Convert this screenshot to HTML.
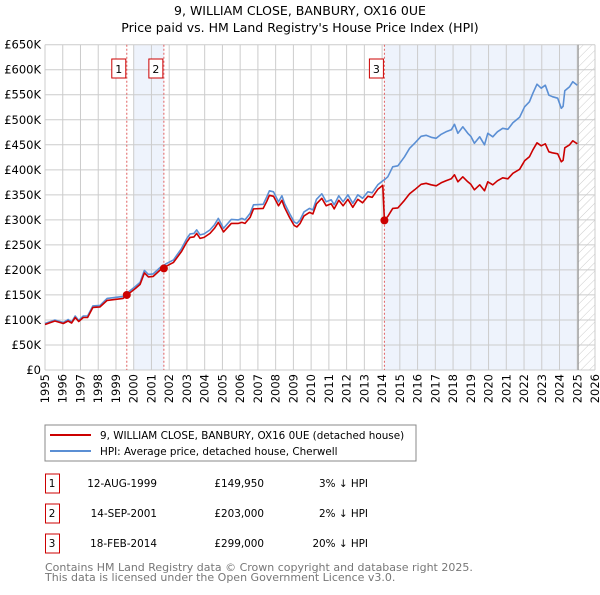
<!DOCTYPE html>
<html><head><meta charset="utf-8"><style>
body{margin:0;background:#fff;}
svg text{font-family:"DejaVu Sans","Liberation Sans",sans-serif;}
</style></head><body>
<svg id="c" width="600" height="590" viewBox="0 0 600 590">
<defs><pattern id="hatch" width="6" height="6" patternUnits="userSpaceOnUse" patternTransform="rotate(45)"><line x1="0" y1="0" x2="0" y2="6" stroke="#ccc" stroke-width="1"/></pattern></defs>
<text x="300" y="15" text-anchor="middle" font-size="12.5">9, WILLIAM CLOSE, BANBURY, OX16 0UE</text>
<text x="300" y="32" text-anchor="middle" font-size="12.5">Price paid vs. HM Land Registry's House Price Index (HPI)</text>
<g id="plot"></g>
<rect x="45" y="425" width="371" height="36" fill="#fff" stroke="#888"/>
<line x1="50" y1="435" x2="91" y2="435" stroke="#cc0000" stroke-width="2"/>
<text x="100" y="439" font-size="10.4">9, WILLIAM CLOSE, BANBURY, OX16 0UE (detached house)</text>
<line x1="50" y1="451" x2="91" y2="451" stroke="#5b8fd4" stroke-width="2"/>
<text x="100" y="455" font-size="10.4">HPI: Average price, detached house, Cherwell</text>
<g id="table"></g>
<text x="45" y="571" font-size="11" fill="#777">Contains HM Land Registry data © Crown copyright and database right 2025.</text>
<text x="45" y="581" font-size="11" fill="#777">This data is licensed under the Open Government Licence v3.0.</text>
</svg>
<script>
const years=[1995.0,1995.56,1996.03,1996.3,1996.5,1996.7,1996.9,1997.16,1997.4,1997.7,1998.1,1998.5,1998.95,1999.4,1999.6,2000.1,2000.36,2000.6,2000.83,2001.1,2001.5,2001.86,2002.24,2002.7,2003.0,2003.18,2003.4,2003.55,2003.74,2003.97,2004.3,2004.55,2004.77,2005.06,2005.5,2005.9,2006.1,2006.27,2006.56,2006.75,2007.3,2007.5,2007.65,2007.88,2008.16,2008.35,2008.5,2008.78,2009.04,2009.2,2009.38,2009.6,2009.9,2010.1,2010.3,2010.6,2010.85,2011.13,2011.3,2011.56,2011.8,2012.07,2012.35,2012.63,2012.9,2013.2,2013.44,2013.76,2014.04,2014.13,2014.32,2014.6,2014.89,2015.26,2015.55,2015.83,2016.2,2016.48,2016.77,2017.05,2017.33,2017.6,2017.9,2018.08,2018.27,2018.55,2018.83,2019.0,2019.2,2019.5,2019.77,2019.96,2020.24,2020.5,2020.8,2021.09,2021.37,2021.75,2022.03,2022.3,2022.5,2022.73,2022.97,2023.2,2023.4,2023.6,2023.9,2024.1,2024.2,2024.3,2024.57,2024.75,2025.0];
const hpiValues=[93,100,95,101,96,108,99,108,108,128,129,143,145,147,153,167,175,199,191,192,205,213,220,243,263,272,273,280,270,272,280,290,303,283,301,300,303,300,313,330,331,346,358,356,336,348,333,313,296,293,300,316,323,320,341,352,336,340,330,348,336,350,333,350,343,356,354,370,378,380,386,406,408,426,443,453,467,469,465,463,471,476,480,491,473,486,473,467,453,466,450,473,466,476,483,481,494,505,526,536,553,571,563,569,549,546,543,523,527,558,566,576,569];
const priceValues=[91,98,93,98,94,105,97,105,105,125,126,139,141,143,149,163,171,194,186,187,200,208,215,237,256,265,266,273,263,265,273,283,295,276,293,293,295,293,305,322,323,337,349,347,328,339,325,305,289,286,293,308,315,312,332,343,328,332,322,339,328,341,325,341,334,347,345,361,369,299,307,323,324,339,352,360,371,373,370,368,374,378,382,390,376,386,376,371,360,370,358,376,370,378,384,382,393,401,418,426,440,454,448,452,436,434,432,416,419,444,450,458,452];
const saleYears=[1999.61,2001.70,2014.13];
const salePrices=[149.95,203,299];
const saleLabels=['1','2','3'];
const saleDates=['12-AUG-1999','14-SEP-2001','18-FEB-2014'];
const salePriceText=['£149,950','£203,000','£299,000'];
const saleDiff=['3% ↓ HPI','2% ↓ HPI','20% ↓ HPI'];
const yTicks=[0,50,100,150,200,250,300,350,400,450,500,550,600,650];
const yTickLabels=['£0','£50K','£100K','£150K','£200K','£250K','£300K','£350K','£400K','£450K','£500K','£550K','£600K','£650K'];
const xTicks=[1995,1996,1997,1998,1999,2000,2001,2002,2003,2004,2005,2006,2007,2008,2009,2010,2011,2012,2013,2014,2015,2016,2017,2018,2019,2020,2021,2022,2023,2024,2025,2026];
const dataEnd=2025.05;

const NS='http://www.w3.org/2000/svg';
const X0=45,X1=595,Y0=370,Y1=44.7,XMIN=1995,XMAX=2026,YMAX=650;
const sx=v=>X0+(v-XMIN)/(XMAX-XMIN)*(X1-X0);
const sy=v=>Y0-v/YMAX*(Y0-Y1);
const plot=document.getElementById('plot');
function mk(tag,attrs,parent){const e=document.createElementNS(NS,tag);for(const k in attrs)e.setAttribute(k,attrs[k]);(parent||plot).appendChild(e);return e;}

let r=mk('rect',{x:sx(2000),y:Y1,width:sx(saleYears[1])-sx(2000),height:Y0-Y1,fill:'#eef3fc'});


r=mk('rect',{x:sx(saleYears[2]),y:Y1,width:sx(dataEnd)-sx(saleYears[2]),height:Y0-Y1,fill:'#eef3fc'});


r=mk('rect',{x:sx(dataEnd),y:Y1,width:X1-sx(dataEnd),height:Y0-Y1,fill:'url(#hatch)'});



yTicks.forEach((t,i)=>{
  const l=mk('line',{x1:X0,x2:X1,y1:sy(t),y2:sy(t),stroke:'#ccc','stroke-width':1});
  
  
  const tx=mk('text',{x:X0-4,y:sy(t)+4,'text-anchor':'end','font-size':11.5});
  tx.textContent=yTickLabels[i];
  
  
});
xTicks.forEach(t=>{
  const l=mk('line',{x1:sx(t),x2:sx(t),y1:Y1,y2:Y0,stroke:'#ccc','stroke-width':1});
  
  
  const tx=mk('text',{x:0,y:0,'text-anchor':'end','font-size':11.5,transform:`translate(${sx(t)+4},${Y0+4}) rotate(-90)`});
  tx.textContent=t;
  
  
});
let el=mk('line',{x1:sx(dataEnd),x2:sx(dataEnd),y1:Y1,y2:Y0,stroke:'#999','stroke-width':1.2});



saleYears.forEach((y,i)=>{
  const l=mk('line',{x1:sx(y),x2:sx(y),y1:Y1,y2:Y0,stroke:'#e06060','stroke-width':1,'stroke-dasharray':'2,2'});
  
  
  const b=mk('rect',{x:sx(y)-15,y:59,width:14,height:19,fill:'#fff',stroke:'#cc0000'});
  
  
  const t=mk('text',{x:sx(y)-8,y:73,'text-anchor':'middle','font-size':11});
  t.textContent=saleLabels[i];
  
  
});

const path=vals=>vals.map((v,i)=>(i?'L':'M')+sx(years[i]).toFixed(1)+','+sy(v).toFixed(1)).join('');
el=mk('path',{d:path(hpiValues),fill:'none',stroke:'#5b8fd4','stroke-width':1.6,'stroke-linejoin':'round'});


el=mk('path',{d:path(priceValues),fill:'none',stroke:'#cc0000','stroke-width':1.6,'stroke-linejoin':'round'});


saleYears.forEach((y,i)=>{
  const c=mk('circle',{cx:sx(y),cy:sy(salePrices[i]),r:4,fill:'#cc0000'});
  
  
});

const tb=document.getElementById('table');
saleLabels.forEach((lab,i)=>{
  const y=483+i*30;
  const b=mk('rect',{x:45.5,y:y-9,width:14,height:19,fill:'#fff',stroke:'#cc0000'},tb);
  
  
  const t=mk('text',{x:52,y:y+4,'text-anchor':'middle','font-size':10.4},tb);
  t.textContent=lab;
  
  
  const d=mk('text',{x:157,y:y+4,'text-anchor':'end','font-size':10.4},tb);
  d.textContent=saleDates[i];
  
  
  const p=mk('text',{x:264,y:y+4,'text-anchor':'end','font-size':10.4},tb);
  p.textContent=salePriceText[i];
  
  
  const h=mk('text',{x:368,y:y+4,'text-anchor':'end','font-size':10.4},tb);
  h.textContent=saleDiff[i];
  
  
});
</script>
</body></html>
